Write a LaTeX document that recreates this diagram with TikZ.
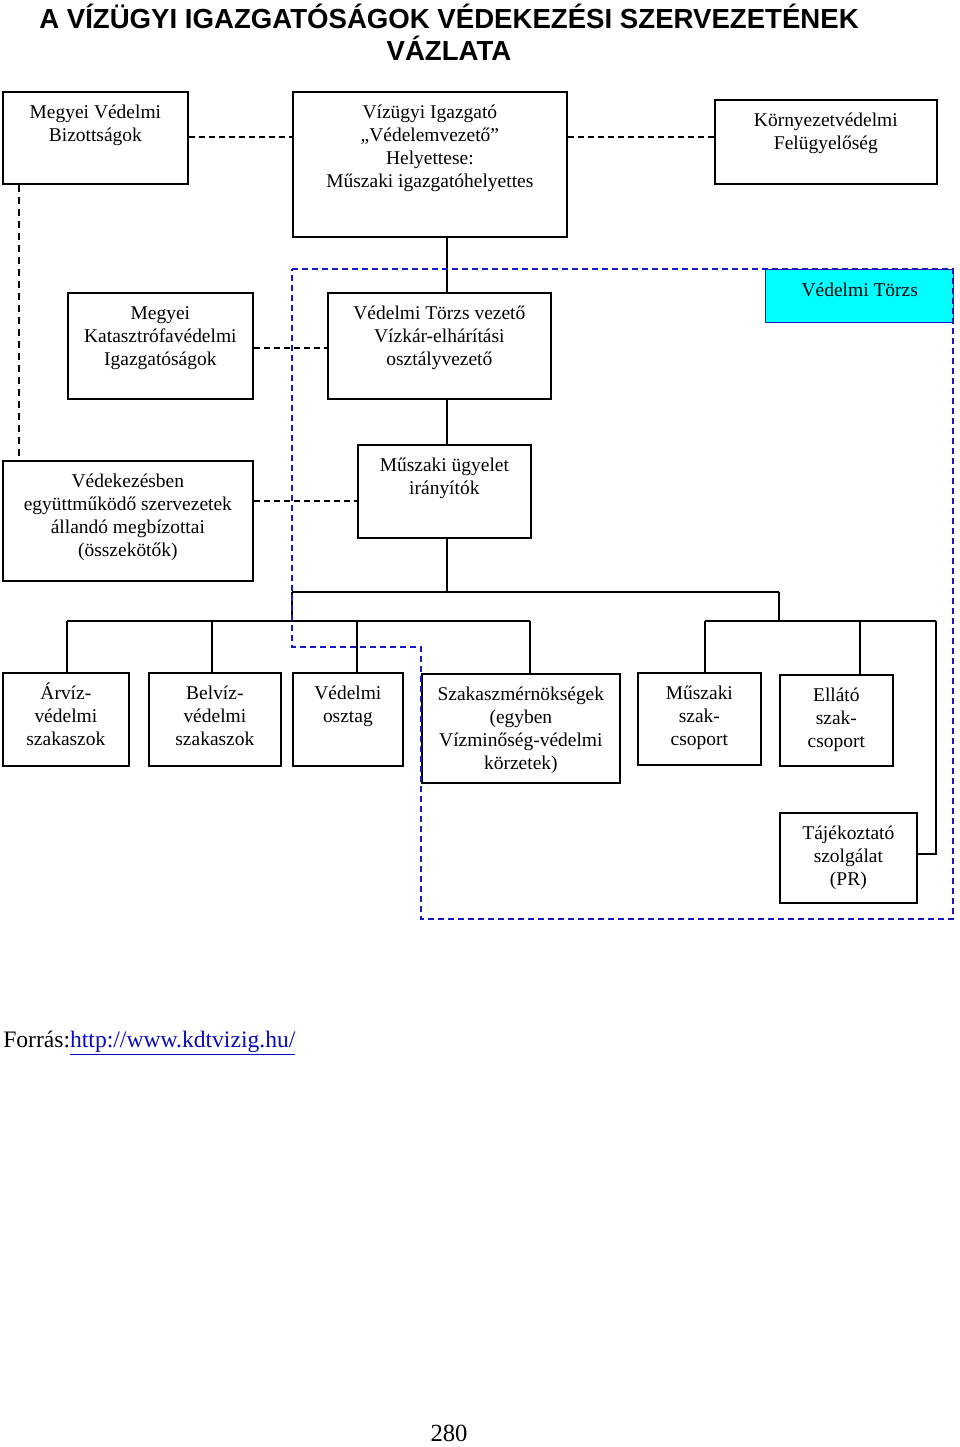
\documentclass[tikz,border=0pt]{standalone}
\usepackage{fontspec}
\setmainfont{Liberation Serif}
\newfontfamily\titlef{Liberation Sans}
\newlength\pxu
\setlength\pxu{0.75pt}
\newcommand\bxt[3]{\parbox[c][#2\pxu][t]{#1\pxu}{\centering\rule{0pt}{26.5\pxu}#3}}
\definecolor{blueline}{RGB}{25,25,195}
\definecolor{cyanfill}{RGB}{0,255,255}
\definecolor{linkblue}{RGB}{10,10,190}
\begin{document}
\begin{tikzpicture}[x=0.75pt,y=-0.75pt,
  bx/.style={draw, line width=1.3pt, inner sep=0pt, anchor=north west,
    font=\fontsize{14.6pt}{17.25pt}\selectfont},
  conn/.style={line width=1.1pt},
  dsh/.style={line width=1.3pt, dash pattern=on 4.5pt off 3pt},
  dshv/.style={line width=0.9pt, dash pattern=on 5.5pt off 3.5pt},
  bdsh/.style={draw=blueline, line width=1.1pt, dash pattern=on 4.5pt off 3pt}]
\useasboundingbox (0,0) rectangle (960,1447);

% title
\node[anchor=base, inner sep=0pt, font=\titlef\bfseries\fontsize{20.7pt}{24pt}\selectfont] (t1) at (449,28) {A VÍZÜGYI IGAZGATÓSÁGOK VÉDEKEZÉSI SZERVEZETÉNEK};
\node[anchor=base, inner sep=0pt, font=\titlef\bfseries\fontsize{20.7pt}{24pt}\selectfont] (t2) at (449,60) {VÁZLATA};

% boxes
\node[bx] (b1) at (2,91) {\bxt{185}{92}{Megyei Védelmi\\Bizottságok}};
\node[bx] (b2) at (292,91) {\bxt{274}{145}{Vízügyi Igazgató\\„Védelemvezető”\\Helyettese:\\Műszaki igazgatóhelyettes}};
\node[bx] (b3) at (714,99) {\bxt{222}{84}{Környezetvédelmi\\Felügyelőség}};
\node[bx] (b4) at (67,292) {\bxt{185}{106}{Megyei\\Katasztrófavédelmi\\Igazgatóságok}};
\node[bx] (b5) at (327,292) {\bxt{223}{106}{Védelmi Törzs vezető\\Vízkár-elhárítási\\osztályvezető}};
\node[bx, draw=blueline, line width=1.1pt, fill=cyanfill] (vt) at (765,269) {\bxt{188}{53}{Védelmi Törzs}};
\node[bx] (b7) at (2,460) {\bxt{250}{120}{Védekezésben\\együttműködő szervezetek\\állandó megbízottai\\(összekötők)}};
\node[bx] (b6) at (357,444) {\bxt{173}{93}{Műszaki ügyelet\\irányítók}};
\node[bx] (arviz) at (2,672) {\bxt{126}{93}{Árvíz-\\védelmi\\szakaszok}};
\node[bx] (belviz) at (148,672) {\bxt{132}{93}{Belvíz-\\védelmi\\szakaszok}};
\node[bx] (vo) at (292,672) {\bxt{110}{93}{Védelmi\\osztag}};
\node[bx] (szak) at (421,673) {\bxt{198}{109}{Szakaszmérnökségek\\(egyben\\Vízminőség-védelmi\\körzetek)}};
\node[bx] (musz) at (637,672) {\bxt{123}{92}{Műszaki\\szak-\\csoport}};
\node[bx] (ellato) at (779,674) {\bxt{113}{91}{Ellátó\\szak-\\csoport}};
\node[bx] (taj) at (779,812) {\bxt{137}{90}{Tájékoztató\\szolgálat\\(PR)}};

% solid connectors
\coordinate (sx) at (447,0);
\coordinate (j1) at (447,592);
\coordinate (busL) at (292,592);
\coordinate (busR) at (779,592);
\coordinate (lbL) at (67,621);
\coordinate (lbR) at (530,621);
\coordinate (lbJ) at (292,621);
\coordinate (rbL) at (705,621);
\coordinate (rbR) at (936,621);
\coordinate (rbJ) at (779,621);
\coordinate (tj) at (936,854);
\draw[conn] (b2.south -| sx) -- (b5.north -| sx);
\draw[conn] (b5.south -| sx) -- (b6.north -| sx);
\draw[conn] (b6.south -| sx) -- (j1);
\draw[conn] (busL) -- (busR);
\draw[conn] (busL) -- (lbJ);
\draw[conn] (busR) -- (rbJ);
\draw[conn] (lbL) -- (lbR);
\draw[conn] (rbL) -- (rbR);
\foreach \xx/\nn in {67/arviz, 212/belviz, 357/vo, 530/szak, 705/musz, 860/ellato}
  \draw[conn] (\xx,621) -- (\nn.north -| \xx,621);
\draw[conn] (rbR) -- (tj) -- (taj.east |- tj);

% dashed connectors
\draw[dsh] (b1.east |- 0,137) -- (b2.west |- 0,137);
\draw[dsh] (b2.east |- 0,137) -- (b3.west |- 0,137);
\draw[dsh] (b4.east |- 0,348) -- (b5.west |- 0,348);
\draw[dsh] (b7.east |- 0,501) -- (b6.west |- 0,501);
\draw[dshv] (b1.south -| 19,0) -- (b7.north -| 19,0);

% blue dashed outline (Védelmi Törzs)
\draw[bdsh] (292,269) -- (953,269) -- (953,919) -- (421,919) -- (421,647) -- (292,647) -- cycle;

% footer
\node[anchor=base west, inner sep=0pt, font=\fontsize{17.7pt}{20pt}\selectfont] (src) at (3,1047) {Forrás:\textcolor{linkblue}{\underline{http://www.kdtvizig.hu/}}};
\node[anchor=base, inner sep=0pt, font=\fontsize{18.5pt}{20pt}\selectfont] (pg) at (449,1441) {280};
\end{tikzpicture}
\end{document}
